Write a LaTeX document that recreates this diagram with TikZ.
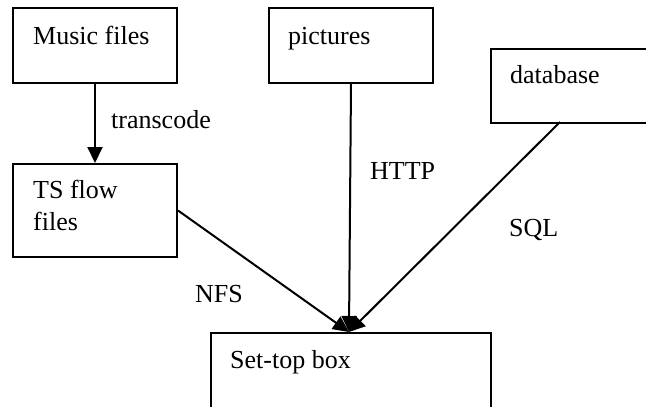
\documentclass[tikz,border=0pt]{standalone}
\usepackage{fontspec}
\setmainfont{Liberation Serif}
\usetikzlibrary{arrows.meta}
\begin{document}
\begin{tikzpicture}[x=1pt,y=-1pt,
  box/.style={draw, line width=2pt, inner sep=0pt, anchor=north west},
  txt/.style={anchor=base west, inner sep=0pt, font=\fontsize{26}{32}\selectfont},
  conn/.style={line width=2pt},
  arr/.style={conn, -{Triangle[length=16pt,width=15pt]}}]
\useasboundingbox (0,0) rectangle (646,407);
\node[box, minimum width=164pt, minimum height=75pt] (music) at (12,7) {};
\node[box, minimum width=164pt, minimum height=75pt] (pict) at (268,7) {};
\node[box, minimum width=180pt, minimum height=74pt] (db) at (490,48) {};
\node[box, minimum width=164pt, minimum height=93pt] (ts) at (12,163) {};
\node[box, minimum width=280pt, minimum height=100pt] (stb) at (210,332) {};
\node[txt] (tmusic) at (33,44) {Music files};
\node[txt] (tpict) at (288,44) {pictures};
\node[txt] (tdb) at (510,83) {database};
\node[txt] (tts1) at (33,198) {TS flow};
\node[txt] (tts2) at (33,230) {files};
\node[txt] (tstb) at (230,368) {Set-top box};
\coordinate (hub) at (349,332);
\coordinate (dbs) at (560,122);
\draw[arr] (music.south) -- (ts.north);
\draw[arr] (pict.south) -- (hub);
\draw[arr] (ts.east) -- (hub);
\draw[arr] (dbs) -- (hub);
\node[txt] (ltrans) at (111,128) {transcode};
\node[txt] (lhttp) at (370,179) {HTTP};
\node[txt] (lsql) at (509,236) {SQL};
\node[txt] (lnfs) at (195,302) {NFS};
\end{tikzpicture}
\end{document}
